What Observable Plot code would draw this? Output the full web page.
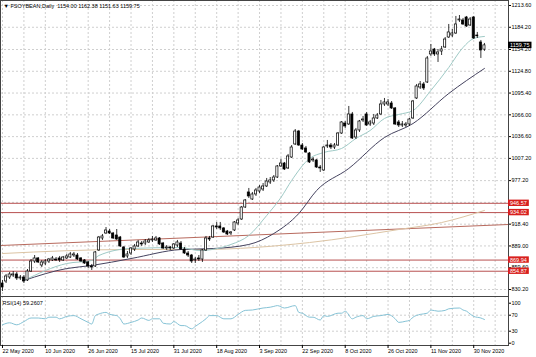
<!DOCTYPE html>
<html><head><meta charset="utf-8">
<script src="https://cdn.jsdelivr.net/npm/d3@7"></script>
<script src="https://cdn.jsdelivr.net/npm/@observablehq/plot@0.6"></script>
<style>
html,body{margin:0;padding:0;background:#fff;}
#chart{position:relative;width:536px;height:357px;overflow:hidden;background:#fff;}
#chart svg{position:absolute;left:0;}
</style></head><body><div id="chart"></div>
<script>
const symbolName = "FSOYBEAN,Daily";
const lastOHLC = [1154.00, 1162.38, 1151.63, 1159.75];
const rsiName = "RSI(14)";
const rsiLast = 59.2607;

const opens = [838.3,841.0,846.4,849.1,850.5,845.1,846.4,842.4,854.5,868.0,
872.1,862.6,865.3,868.0,869.4,870.7,872.1,869.4,872.1,873.4,
876.1,876.1,872.1,869.4,866.7,861.3,861.3,882.9,899.1,905.8,
908.5,905.8,903.1,900.4,886.9,874.8,878.8,884.2,888.3,892.3,
892.3,893.7,896.4,896.4,899.1,892.3,885.6,886.9,885.6,889.6,
892.3,884.2,878.8,876.1,869.4,872.1,870.7,882.9,899.1,900.4,
915.3,915.3,912.6,908.5,905.8,909.9,919.3,924.7,940.9,961.2,
951.7,958.5,962.5,965.2,969.3,974.7,977.4,981.4,996.3,1000.3,
993.6,1008.4,1026.0,1043.5,1024.6,1020.6,1013.8,1004.4,1004.4,994.9,
990.9,1023.3,1024.6,1021.9,1024.6,1040.8,1054.3,1053.0,1066.5,1035.4,
1044.9,1058.4,1066.5,1053.0,1054.3,1061.1,1066.5,1080.0,1080.0,1081.3,
1074.6,1055.7,1051.6,1051.6,1053.0,1061.1,1088.1,1102.9,1107.0,1109.7,
1147.5,1154.2,1147.5,1151.5,1156.9,1170.4,1173.1,1175.8,1193.4,1193.4,
1197.4,1186.6,1197.4,1173.1,1163.7,1154.00];
const closes = [832.9,847.8,850.5,850.5,845.1,846.4,841.0,854.5,868.0,872.1,
866.7,866.7,868.0,870.7,872.1,869.4,869.4,873.4,874.8,877.5,
877.5,870.7,868.0,865.3,861.3,859.9,880.2,900.4,901.8,909.9,
905.8,899.1,897.7,888.3,873.4,877.5,885.6,888.3,893.7,891.0,
895.0,896.4,897.7,899.1,891.0,885.6,886.9,885.6,891.0,893.7,
884.2,878.8,876.1,868.0,870.7,870.7,882.9,899.1,897.7,915.3,
913.9,912.6,907.2,904.5,907.2,920.7,923.4,940.9,950.4,955.8,
958.5,963.9,967.9,969.3,976.0,977.4,981.4,996.3,1000.3,992.2,
1009.8,1021.9,1043.5,1024.6,1019.2,1015.2,1001.7,1005.7,994.9,993.6,
1021.9,1024.6,1021.9,1024.6,1040.8,1055.7,1050.3,1066.5,1034.1,1044.9,
1057.0,1059.7,1051.6,1055.7,1061.1,1065.1,1080.0,1082.7,1082.7,1074.6,
1053.0,1051.6,1053.0,1053.0,1059.7,1084.0,1104.3,1107.0,1101.6,1142.1,
1151.5,1147.5,1150.2,1154.2,1167.7,1177.2,1175.8,1188.0,1194.7,1188.0,
1185.3,1194.7,1169.1,1172.0,1152.9,1159.75];
const highs = [842.4,850.5,853.2,854.5,853.2,849.1,849.1,857.2,870.7,876.1,
873.4,869.4,870.7,872.1,874.8,873.4,874.8,874.8,877.5,880.2,
880.2,878.8,873.4,870.7,868.0,864.0,881.5,901.8,904.5,913.9,
911.2,907.2,911.2,901.8,888.3,881.5,886.9,891.0,896.4,895.0,
897.7,899.1,901.8,901.8,900.4,893.7,889.6,888.3,892.3,896.4,
895.0,886.9,881.5,877.5,873.4,876.1,884.2,901.8,901.8,916.6,
920.7,920.7,913.9,909.9,908.5,922.0,926.1,942.3,951.7,966.6,
961.2,966.6,970.6,973.3,980.1,981.4,984.1,997.6,1005.7,1001.7,
1012.5,1024.6,1046.2,1044.9,1027.3,1023.3,1015.2,1008.4,1005.7,997.6,
1023.3,1031.4,1027.3,1027.3,1042.2,1057.0,1057.0,1077.3,1069.2,1047.6,
1058.4,1063.8,1069.2,1058.4,1066.5,1067.8,1085.4,1088.1,1086.7,1084.0,
1075.9,1058.4,1057.0,1055.7,1061.1,1085.4,1107.0,1111.0,1109.7,1144.8,
1161.0,1155.6,1154.2,1158.3,1170.4,1188.0,1181.2,1198.8,1200.1,1196.1,
1198.8,1197.4,1198.8,1177.2,1166.4,1162.38];
const lows = [827.5,838.3,843.7,846.4,842.4,842.4,838.3,841.0,853.2,865.3,
865.3,859.9,862.6,865.3,868.0,868.0,866.7,868.0,870.7,872.1,
873.4,869.4,866.7,864.0,858.6,855.9,859.9,881.5,896.4,904.5,
904.5,897.7,896.4,886.9,872.1,872.1,876.1,881.5,886.9,888.3,
889.6,892.3,893.7,895.0,889.6,884.2,882.9,882.9,884.2,886.9,
882.9,877.5,873.4,865.3,865.3,868.0,866.7,881.5,895.0,899.1,
911.2,909.9,905.8,903.1,903.1,908.5,916.6,923.4,939.6,953.1,
950.4,955.8,959.8,962.5,967.9,972.0,974.7,980.1,994.9,990.9,
992.2,1007.1,1024.6,1023.3,1017.9,1013.8,1000.3,1001.7,993.6,988.2,
989.5,1020.6,1019.2,1019.2,1023.3,1039.5,1047.6,1051.6,1032.7,1032.7,
1042.2,1055.7,1050.3,1050.3,1051.6,1059.7,1065.1,1077.3,1077.3,1073.2,
1051.6,1048.9,1048.9,1048.9,1050.3,1059.7,1086.7,1100.2,1098.9,1108.3,
1144.8,1144.8,1136.7,1146.1,1155.6,1169.1,1170.4,1174.5,1190.7,1186.6,
1183.9,1185.3,1167.7,1169.1,1142.1,1151.63];

const fastMAIdx = [6,18,25,27,36,50,55,64,69,74,78,81,86,90,95,99,103,107,111,115,120,125,129,132,135];
const fastMAVal = [842.4,865.3,869.4,876.1,885.6,886.9,882.8,891.0,903.1,930.1,954.4,977.4,1007.0,1015.2,1020.6,1034.1,1044.9,1061.1,1066.5,1071.9,1098.9,1129.9,1156.9,1169.1,1171.8];
const slowMAIdx = [6,18,25,36,50,59,69,76,83,88,97,107,115,125,135];
const slowMAVal = [842.4,858.5,862.6,872.0,884.2,885.5,891.0,905.8,932.8,963.9,993.6,1035.4,1054.3,1094.8,1128.6];
const longMAIdx = [0,35,55,86,111,123,135];
const longMAVal = [878.8,884.2,884.2,893.6,911.2,920.6,936.9];

const trendIdx = [-0.56, 141.74];
const trendVal = [889.6, 917.95];

const levels = [946.57, 934.02, 869.94, 854.87];
const priceTicks = [1213.60,1184.20,1154.20,1124.80,1095.40,1066.00,1036.60,1007.20,977.20,947.80,918.40,889.00,859.60,830.20];
const rsiTicks = [100,70,30,0];
const rsiLevels = [70,30];

const dateLabels = ["22 May 2020","10 Jun 2020","26 Jun 2020","15 Jul 2020","31 Jul 2020","18 Aug 2020","3 Sep 2020","22 Sep 2020","8 Oct 2020","26 Oct 2020","11 Nov 2020","30 Nov 2020"];
const dateLabelIdx = [0,12,24,36,48,60,72,84,96,108,120,132];

const rsiIdx = [0,2,4,6,8,10,12,13,15,16,18,20,22,24,25,26,27,29,30,32,33,34,36,38,39,41,42,44,45,47,48,50,51,53,54,55,57,58,60,62,64,66,68,70,73,75,76,77,79,82,83,84,86,87,89,90,91,94,95,96,98,99,101,102,104,106,108,110,111,113,114,115,117,119,120,122,124,125,128,129,130,131,132,134,135];
const rsiVal = [46,51,46,54,63,63,61,65,65,61,67,69,61,52,48,69,73,77,72,69,61,48,52,58,63,57,61,61,50,48,54,44,44,36,42,48,61,69,69,61,61,72,82,83,88,90,92,94,88,94,77,75,65,65,58,69,67,75,75,80,61,65,69,61,67,69,72,61,52,55,57,65,72,75,83,80,82,86,88,83,80,73,67,63,59.26];

// ---- derived tables ----
const bars = opens.map((o, i) => ({i, o, c: closes[i], h: highs[i], l: lows[i]}));
const fastMA = fastMAIdx.map((i, k) => ({i, v: fastMAVal[k]}));
const slowMA = slowMAIdx.map((i, k) => ({i, v: slowMAVal[k]}));
const longMA = longMAIdx.map((i, k) => ({i, v: longMAVal[k]}));
const trend = trendIdx.map((i, k) => ({i, v: trendVal[k]}));
const rsi = rsiIdx.map((i, k) => ({i, v: rsiVal[k]}));
const gridIdx = d3.range(0, 142, 6);

const FONT = "'Liberation Sans', Arial, sans-serif";
const xDomain = [-0.56, 141.74];
const yDomain = [820.75, 1220.35];
const GRID = "#cfcfcf";

const main = Plot.plot({
  width: 536, height: 296,
  marginTop: 0, marginBottom: 0, marginLeft: 0, marginRight: 28,
  x: {domain: xDomain, axis: null},
  y: {domain: yDomain, axis: null},
  style: {fontFamily: FONT, fontSize: "5.5px", color: "#000", background: "#fff", overflow: "visible"},
  marks: [
    Plot.ruleY(priceTicks, {stroke: GRID, strokeDasharray: "2,2"}),
    Plot.ruleX(gridIdx, {stroke: GRID, strokeDasharray: "2,2"}),
    Plot.ruleY(levels, {stroke: "#b85050", strokeWidth: 1}),
    Plot.line(trend, {x: "i", y: "v", stroke: "#b86a5e", strokeWidth: 1}),
    Plot.line(longMA, {x: "i", y: "v", stroke: "#dcc4a4", strokeWidth: 1, curve: "monotone-x"}),
    Plot.line(slowMA, {x: "i", y: "v", stroke: "#45435f", strokeWidth: 1, curve: "monotone-x"}),
    Plot.line(fastMA, {x: "i", y: "v", stroke: "#9fcac6", strokeWidth: 1, curve: "monotone-x"}),
    Plot.ruleX(bars, {x: "i", y1: "l", y2: "h", stroke: "#000", strokeWidth: 0.8}),
    Plot.rect(bars, {x1: d => d.i - 0.3, x2: d => d.i + 0.3, y1: "o", y2: "c",
      fill: d => d.c >= d.o ? "#fff" : "#000", stroke: "#000", strokeWidth: 0.7}),
    Plot.frame({stroke: "#444"}),
    Plot.axisY({anchor: "right", ticks: priceTicks, tickFormat: d => d.toFixed(2), tickSize: 2, tickPadding: 1, fontSize: 5.5, label: null}),
    Plot.text([`\u25BC ${symbolName}  ${lastOHLC.map(v => v.toFixed(2)).join(" ")}`], {frameAnchor: "top-left", dx: 3, dy: 4, lineAnchor: "top", textAnchor: "start", fill: "#000", fontSize: 5.5})
  ]
});

const rsiPlot = Plot.plot({
  width: 536, height: 61,
  marginTop: 0, marginBottom: 12, marginLeft: 0, marginRight: 28,
  x: {domain: xDomain, axis: null},
  y: {domain: [0, 100], range: [46.7, 6.7], axis: null},
  style: {fontFamily: FONT, fontSize: "5px", color: "#000", background: "transparent", overflow: "visible"},
  marks: [
    Plot.ruleY(rsiLevels, {stroke: GRID, strokeDasharray: "2,2"}),
    Plot.ruleX(gridIdx, {stroke: GRID, strokeDasharray: "2,2"}),
    Plot.line(rsi, {x: "i", y: "v", stroke: "#86c3d6", strokeWidth: 1, curve: "monotone-x"}),
    Plot.frame({stroke: "#444"}),
    Plot.axisY({anchor: "right", ticks: rsiTicks, tickFormat: d => String(d), tickSize: 2, tickPadding: 1, fontSize: 5.5, label: null}),
    Plot.axisX({anchor: "bottom", ticks: dateLabelIdx, tickFormat: d => dateLabels[dateLabelIdx.indexOf(d)], tickSize: 3, tickPadding: 1, textAnchor: "start", fontSize: 5.4, label: null}),
    Plot.text([`${rsiName} ${rsiLast}`], {frameAnchor: "top-left", dx: 2, dy: 5, lineAnchor: "top", textAnchor: "start", fill: "#000", fontSize: 5.5})
  ]
});

const root = document.getElementById("chart");
main.style.top = "0px";
rsiPlot.style.top = "296px";
root.appendChild(main);
root.appendChild(rsiPlot);

// price tags in the right margin (level boxes and current price box), positioned through the plot's y scale
let yScale;
try { const s = main.scale("y"); yScale = s && s.apply ? (v => s.apply(v)) : null; } catch (e) { yScale = null; }
if (!yScale) { const s = d3.scaleLinear(yDomain, [296, 0]); yScale = v => s(v); }
const tags = levels.map(v => ({v, fill: "#d8201e"})).concat([{v: lastOHLC[3], fill: "#000"}]);
const tagG = d3.select(main).append("g")
  .attr("font-family", FONT).attr("font-size", 5.5).attr("text-anchor", "start");
for (const t of tags) {
  const y = yScale(t.v);
  const rect = tagG.append("rect").attr("x", 508).attr("y", y - 3.2).attr("height", 6.4).attr("fill", t.fill);
  const txt = tagG.append("text").attr("x", 510).attr("y", y).attr("dy", "0.36em")
    .attr("text-anchor", "start").attr("fill", "#fff").text(t.v.toFixed(2));
  let w = 18;
  try { w = txt.node().getComputedTextLength(); } catch (e) {}
  rect.attr("width", w + 4);
}
</script>
</body></html>
